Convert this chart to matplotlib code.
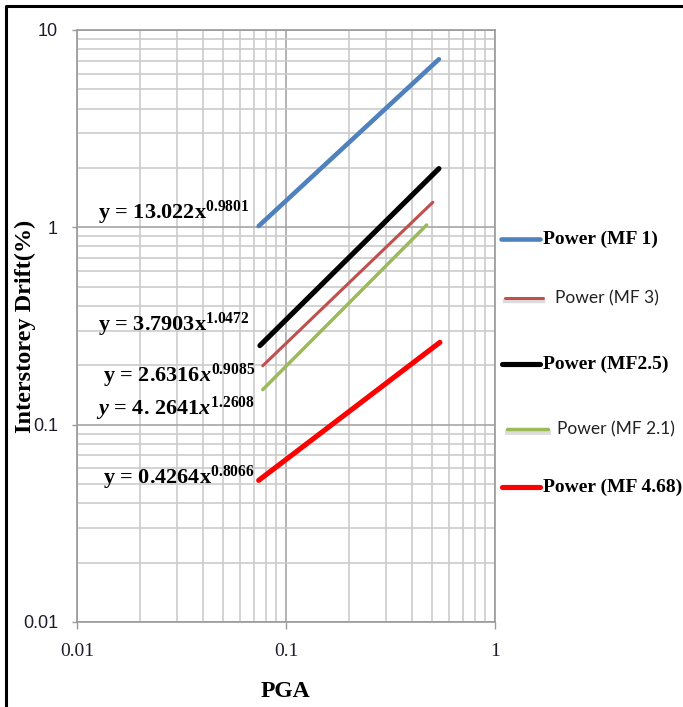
import numpy as np
import matplotlib
matplotlib.use('Agg')
import matplotlib.pyplot as plt
from matplotlib.lines import Line2D
from matplotlib.ticker import FixedLocator, FixedFormatter, NullFormatter, LogLocator

plt.rcParams['mathtext.fontset'] = 'custom'
plt.rcParams['mathtext.rm'] = 'Liberation Serif:bold'
plt.rcParams['mathtext.it'] = 'Liberation Serif:italic:bold'
plt.rcParams['mathtext.bf'] = 'Liberation Serif:bold'

# power trendlines  y = a * PGA^b
series = ['Power (MF 1)', 'Power (MF 3)', 'Power (MF2.5)', 'Power (MF 2.1)', 'Power (MF 4.68)']
coef = [13.022, 2.69, 3.7903, 2.29, 0.4264]
expo = [0.9801, 1.018, 1.0472, 1.064, 0.8066]
pga_from = [0.074, 0.0774, 0.075, 0.0774, 0.074]
pga_to = [0.539, 0.504, 0.539, 0.471, 0.545]
colors = ['#4f81bd', '#c0504d', '#000000', '#9bbb59', '#ff0000']
widths = [3.3, 2.2, 3.7, 2.5, 3.7]

equations = ['y = 13.022x$^{0.9801}$',
             'y = 3.7903x$^{1.0472}$',
             'y = 2.6316$x^{0.9085}$',
             '$y$ = 4. 2641$x^{1.2608}$',
             'y = 0.4264x$^{0.8066}$']

xticks = [0.01, 0.1, 1]
xtick_labels = ['0.01', '0.1', '1']
yticks = [0.01, 0.1, 1, 10]
ytick_labels = ['0.01', '0.1', '1', '10']

W, H = 683, 707


def px(x, y):
    # pixel position (from top left) to figure fraction
    return x / W, 1 - y / H


fig = plt.figure(figsize=(W / 100, H / 100), dpi=100)
ax = fig.add_axes([77 / W, 1 - 622 / H, 418 / W, 592 / H])
ax.set_xscale('log')
ax.set_yscale('log')
ax.set_xlim(0.01, 1)
ax.set_ylim(0.01, 10)

for i in range(len(series)):
    x = np.array([pga_from[i], pga_to[i]])
    y = coef[i] * x ** expo[i]
    ax.plot(x, y, color=colors[i], lw=widths[i], solid_capstyle='round', zorder=3)

ax.xaxis.set_major_locator(FixedLocator(xticks))
ax.xaxis.set_major_formatter(FixedFormatter(xtick_labels))
ax.yaxis.set_major_locator(FixedLocator(yticks))
ax.yaxis.set_major_formatter(FixedFormatter(ytick_labels))
ax.xaxis.set_minor_locator(LogLocator(base=10, subs=np.arange(2, 10)))
ax.yaxis.set_minor_locator(LogLocator(base=10, subs=np.arange(2, 10)))
ax.xaxis.set_minor_formatter(NullFormatter())
ax.yaxis.set_minor_formatter(NullFormatter())

ax.grid(which='minor', color='#cccccc', lw=1.2)
ax.grid(which='major', color='#a6a6a6', lw=1.2)
ax.set_axisbelow(True)
for s in ax.spines.values():
    s.set_color('#9a9a9a')
    s.set_linewidth(1.2)

ax.tick_params(which='minor', length=0)
ax.tick_params(axis='y', which='major', length=3.6, width=1, color='#9a9a9a', pad=10)
ax.tick_params(axis='x', which='major', length=5, width=1, color='#9a9a9a', pad=10)
for t in ax.get_yticklabels():
    t.set_fontfamily('Liberation Sans')
    t.set_fontsize(13)
    t.set_color('#1c1c2c')
for t in ax.get_xticklabels():
    t.set_fontfamily('Liberation Serif')
    t.set_fontsize(14)
    t.set_color('#1c1c2c')

# axis titles
fig.text(*px(285, 697), 'PGA', ha='center', va='baseline',
         family='Liberation Serif', weight='bold', fontsize=17)
fig.text(*px(25, 326), 'Interstorey Drift(%)', ha='center', va='center', rotation=90,
         family='Liberation Serif', weight='bold', fontsize=17.5)

# trendline equations
eq_pos = [(98, 219), (98, 331), (103, 382), (96, 415), (103, 484)]
for (ex, ey), txt in zip(eq_pos, equations):
    fig.text(*px(ex, ey), txt, ha='left', va='baseline',
             family='Liberation Serif', weight='bold', fontsize=16)

# legend drawn by hand to the right of the plot
leg_y = [239, 298, 364, 429, 487]
leg_x0 = [501, 505, 502, 507, 502]
leg_x1 = [540, 543, 540, 548, 540]
leg_tx = [543, 555, 543, 557, 543]
leg_bold = [True, False, True, False, True]
for i in range(len(series)):
    x0, y0 = px(leg_x0[i], leg_y[i])
    x1, _ = px(leg_x1[i], leg_y[i])
    if not leg_bold[i]:
        _, ys = px(0, leg_y[i] + 3)
        fig.add_artist(Line2D([x0, x1], [ys, ys], color='#bbbbbb', lw=widths[i] + 1,
                              alpha=0.5, transform=fig.transFigure))
    fig.add_artist(Line2D([x0, x1], [y0, y0], color=colors[i], lw=widths[i],
                          solid_capstyle='round', transform=fig.transFigure))
    if leg_bold[i]:
        fig.text(*px(leg_tx[i], leg_y[i]), series[i], ha='left', va='center',
                 family='Liberation Serif', weight='bold', fontsize=14)
    else:
        fig.text(*px(leg_tx[i], leg_y[i]), series[i], ha='left', va='center',
                 family='Lato', fontsize=12.5, color='#222222')

# frame around the chart
fig.add_artist(Line2D([5.5 / W, 5.5 / W, 1], [0, 1 - 5.5 / H, 1 - 5.5 / H],
                      color='black', lw=2.2, transform=fig.transFigure))

fig.savefig('out.png', dpi=100)
